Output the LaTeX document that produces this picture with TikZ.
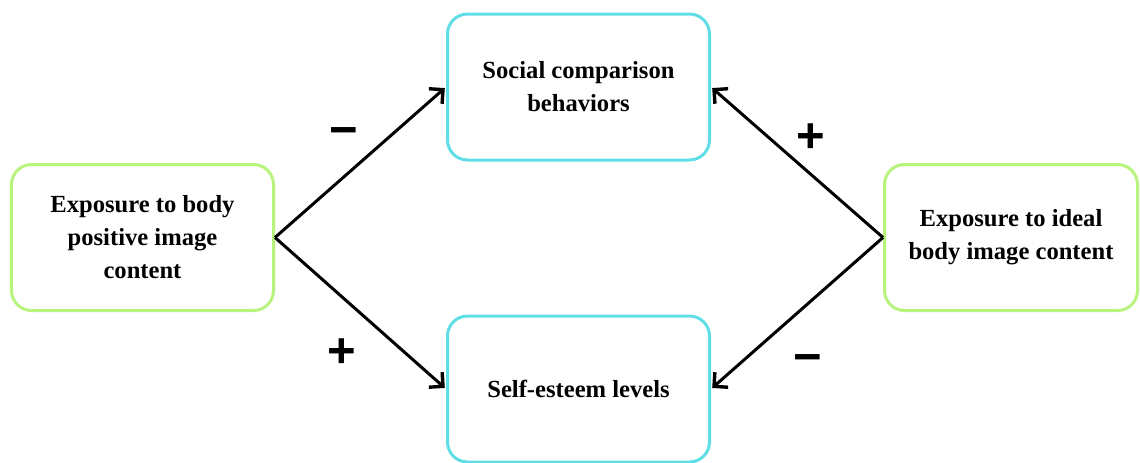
\documentclass[tikz,border=0pt]{standalone}
\usepackage{fontspec}
\setmainfont{Liberation Serif}
\newfontfamily\signfont{Liberation Sans}
\usetikzlibrary{positioning,arrows.meta}

\definecolor{boxgreen}{RGB}{184,243,125}
\definecolor{boxcyan}{RGB}{96,222,230}

\begin{document}
\begin{tikzpicture}[-{Straight Barb[length=5pt,width=10pt,line width=1.7pt]},shorten >=0.8pt,line width=1.5pt,
  node distance=218pt,
  box/.style={rectangle,rounded corners=10pt,line width=1.5pt,minimum height=73pt,align=center,
    font=\fontsize{12.3}{16.5}\selectfont\bfseries},
  side node/.style={box,draw=boxgreen,minimum width=131pt},
  mid node/.style={box,draw=boxcyan,minimum width=131pt},
  sign/.style={font=\signfont\fontsize{24.5}{24.5}\selectfont\bfseries,
    text height=18.5pt,text depth=0pt,inner sep=0pt}]

  \useasboundingbox (-71.25pt,-112.25pt) rectangle (498.75pt,118.75pt);

  \node[side node] (posexp) {Exposure to body\\positive image\\content};
  \coordinate[right of=posexp] (centre);
  \node[mid node] (social) [above of=centre, node distance=75.25pt] {Social comparison\\behaviors};
  \node[mid node] (selfest) [below of=centre, node distance=75.75pt] {Self-esteem levels};
  \node[side node, minimum width=126.5pt] (idealexp) [right of=centre, node distance=216.25pt]
    {Exposure to ideal\\body image content};

  % signed effects on the two outcomes
  \path
    (posexp.east) edge node[sign, xshift=-8.25pt, yshift=16.9pt] (negpos) {−} (social.west)
    (posexp.east) edge node[sign, xshift=-9.25pt, yshift=-18.1pt] (pospos) {+} (selfest.west)
    (idealexp.west) edge node[sign, xshift=7pt, yshift=14.1pt] (posideal) {+} (social.east)
    (idealexp.west) edge node[sign, xshift=5.5pt, yshift=-20.9pt] (negideal) {−} (selfest.east);
\end{tikzpicture}
\end{document}
